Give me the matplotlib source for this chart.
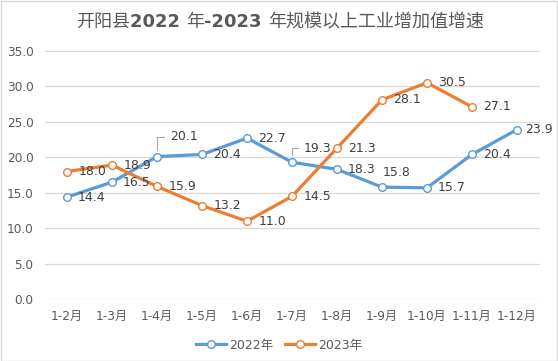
import matplotlib
matplotlib.use("Agg")
import matplotlib.pyplot as plt
from matplotlib.patches import Rectangle

plt.rcParams['font.family'] = ['DejaVu Sans', 'Noto Sans CJK SC']

categories = ["1-2月", "1-3月", "1-4月", "1-5月", "1-6月", "1-7月", "1-8月",
              "1-9月", "1-10月", "1-11月", "1-12月"]
v2022 = [14.4, 16.5, 20.1, 20.4, 22.7, 19.3, 18.3, 15.8, 15.7, 20.4, 23.9]
v2023 = [18.0, 18.9, 15.9, 13.2, 11.0, 14.5, 21.3, 28.1, 30.5, 27.1]
yticks = [0, 5, 10, 15, 20, 25, 30, 35]
series_names = ["2022年", "2023年"]
title_parts = [("开阳县", "normal"), ("2022 ", "bold"), ("年", "normal"),
               ("-2023 ", "bold"), ("年规模以上工业增加值增速", "normal")]

C22 = "#5B9BD5"
C23 = "#ED7D31"
TXT = "#595959"
LBL = "#404040"
GRID = "#D9D9D9"

W, H = 558, 361
fig = plt.figure(figsize=(W / 100, H / 100), dpi=100)
fig.patches.append(Rectangle((0.5 / W, 0.5 / H), 1 - 1.5 / W, 1 - 1.5 / H,
                             transform=fig.transFigure, fill=False,
                             edgecolor=GRID, lw=1.0))

ax = fig.add_axes([44.5 / W, 1 - 299.3 / H, 495 / W, 248.5 / H])
ax.set_xlim(-0.5, len(categories) - 0.5)
ax.set_ylim(0, 35)
for s in ax.spines.values():
    s.set_visible(False)
ax.set_yticks(yticks)
ax.set_yticklabels([f"{t:.1f}" for t in yticks])
ax.set_xticks(range(len(categories)))
ax.set_xticklabels(categories)
ax.tick_params(axis='both', length=0, colors=TXT, labelsize=8.7)
ax.tick_params(axis='y', pad=8)
ax.tick_params(axis='x', pad=8)
ax.grid(axis='y', color=GRID, lw=0.9)
ax.set_axisbelow(True)

x22 = list(range(len(v2022)))
x23 = list(range(len(v2023)))
ax.plot(x22, v2022, color=C22, lw=2.3, marker='o', ms=5.5,
        mfc='white', mec=C22, mew=1.0, label=series_names[0], zorder=3)
ax.plot(x23, v2023, color=C23, lw=2.3, marker='o', ms=5.5,
        mfc='white', mec=C23, mew=1.0, label=series_names[1], zorder=3)

# label offsets in pixels (dx right, dy down)
off22 = {i: (11, 0) for i in x22}
off22[2] = (13, -20)
off22[5] = (12, -14)
off22[7] = (1, -15)
off22[10] = (8, 0)
leader22 = {2, 5}
off23 = {i: (11.5, 0) for i in x23}

def put_labels(xs, vals, offs, leaders):
    for i in xs:
        dx, dy = offs[i]
        kw = {}
        if i in leaders:
            kw['arrowprops'] = dict(arrowstyle='-', color='#A6A6A6', lw=0.8,
                                    shrinkA=2, shrinkB=5,
                                    connectionstyle='angle,angleA=0,angleB=90,rad=0',
                                    relpos=(0, 0.5))
        ax.annotate(f"{vals[i]:.1f}", (i, vals[i]), xytext=(dx, -dy),
                    textcoords='offset pixels', ha='left', va='center',
                    fontsize=9, color=LBL, zorder=4, **kw)

put_labels(x22, v2022, off22, leader22)
put_labels(x23, v2023, off23, set())

leg = fig.legend(loc='center', bbox_to_anchor=(279 / W, 1 - 345 / H), ncol=2,
                 frameon=False, fontsize=9, handlelength=2.4,
                 handletextpad=0.2, columnspacing=1.0)
for t in leg.get_texts():
    t.set_color(TXT)

# title built from parts
renderer = fig.canvas.get_renderer()
texts = []
widths = []
for s, wgt in title_parts:
    t = fig.text(0, 1 - 22 / H, s, fontsize=13, fontweight=wgt, color=TXT,
                 ha='left', va='center')
    texts.append(t)
    widths.append(t.get_window_extent(renderer).width)
total = sum(widths)
x0 = 280 - total / 2
for t, w in zip(texts, widths):
    t.set_x(x0 / W)
    x0 += w

fig.savefig("out.png", dpi=100)
